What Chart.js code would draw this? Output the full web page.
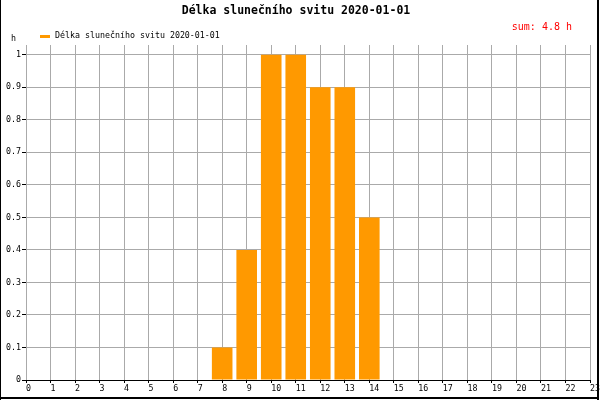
<!DOCTYPE html>
<html>
<head>
<meta charset="utf-8">
<script src="https://cdn.jsdelivr.net/npm/chart.js@4"></script>
<style>
  body { margin: 0; background: #fff; }
  canvas { display: block; }
</style>
</head>
<body>
<canvas id="chart" width="600" height="400"></canvas>
<script>
// Data
const titleText = 'Délka slunečního svitu 2020-01-01';
const hours = ['0','1','2','3','4','5','6','7','8','9','10','11','12','13','14','15','16','17','18','19','20','21','22','23'];
const sunshine = [0,0,0,0,0,0,0,0,0.1,0.4,1,1,0.9,0.9,0.5,0,0,0,0,0,0,0,0,0];
const unit = 'h';

const barColor = '#ff9900';
const gridColor = '#aaaaaa';
const smallFont = '"DejaVu Sans Mono", "Liberation Mono", monospace';

const total = sunshine.reduce((a, b) => a + b, 0);

// Title, legend, sum and unit label + frame
const decorations = {
    id: 'decorations',
    afterDraw(chart) {
        const ctx = chart.ctx;
        ctx.save();
        ctx.textBaseline = 'middle';

        ctx.fillStyle = '#000';
        ctx.font = 'bold 11.5px ' + smallFont;
        ctx.textAlign = 'center';
        ctx.fillText(titleText, 296, 11);

        ctx.fillStyle = '#ff0000';
        ctx.font = '10px ' + smallFont;
        ctx.textAlign = 'right';
        ctx.fillText('sum: ' + total.toFixed(1) + ' ' + unit, 572, 27);

        ctx.fillStyle = barColor;
        ctx.fillRect(40, 35, 10, 3);
        ctx.fillStyle = '#000';
        ctx.font = '8.3px ' + smallFont;
        ctx.textAlign = 'left';
        ctx.fillText(chart.data.datasets[0].label, 55, 36);
        ctx.fillText(unit, 11, 39);

        // frame
        ctx.fillRect(0, 0, 1, 400);
        ctx.fillRect(597, 0, 2, 400);
        ctx.fillRect(0, 397, 599, 2);
        ctx.restore();
    }
};

const ctx = document.getElementById('chart').getContext('2d');
const chart = new Chart(ctx, {
    type: 'bar',
    data: {
        labels: hours,
        datasets: [{
            label: titleText,
            data: sunshine,
            backgroundColor: barColor,
            borderWidth: 0,
            barPercentage: 0.84,
            categoryPercentage: 1
        }]
    },
    options: {
        responsive: false,
        animation: false,
        layout: { padding: { top: 45, right: 10, left: 0, bottom: 0 } },
        plugins: {
            legend: { display: false },
            title: { display: false },
            tooltip: { enabled: false }
        },
        scales: {
            x: {
                offset: false,
                grid: { offset: false, color: gridColor, tickColor: '#000', tickLength: 3 },
                border: { color: '#000' },
                ticks: {
                    align: 'start',
                    padding: 1,
                    maxRotation: 0,
                    autoSkip: false,
                    color: '#000',
                    font: { family: smallFont, size: 8.3 }
                },
                afterFit(scale) {
                    scale.height = 20;
                    scale.paddingLeft = 0;
                    scale.paddingRight = 0;
                }
            },
            y: {
                min: 0,
                max: 1.03,
                grid: {
                    color: c => (c.tick && c.tick.value === 0 ? '#000' : gridColor),
                    tickColor: '#000',
                    tickLength: 4
                },
                border: { display: false },
                ticks: {
                    stepSize: 0.1,
                    padding: 1,
                    color: '#000',
                    font: { family: smallFont, size: 8.3 },
                    callback: v => String(Number(v.toFixed(1)))
                },
                afterBuildTicks(scale) {
                    scale.ticks = scale.ticks.filter(t => t.value <= 1.0001);
                },
                afterFit(scale) {
                    scale.width = 26;
                    scale.paddingTop = 0;
                    scale.paddingBottom = 0;
                }
            }
        }
    },
    plugins: [decorations]
});
</script>
</body>
</html>
